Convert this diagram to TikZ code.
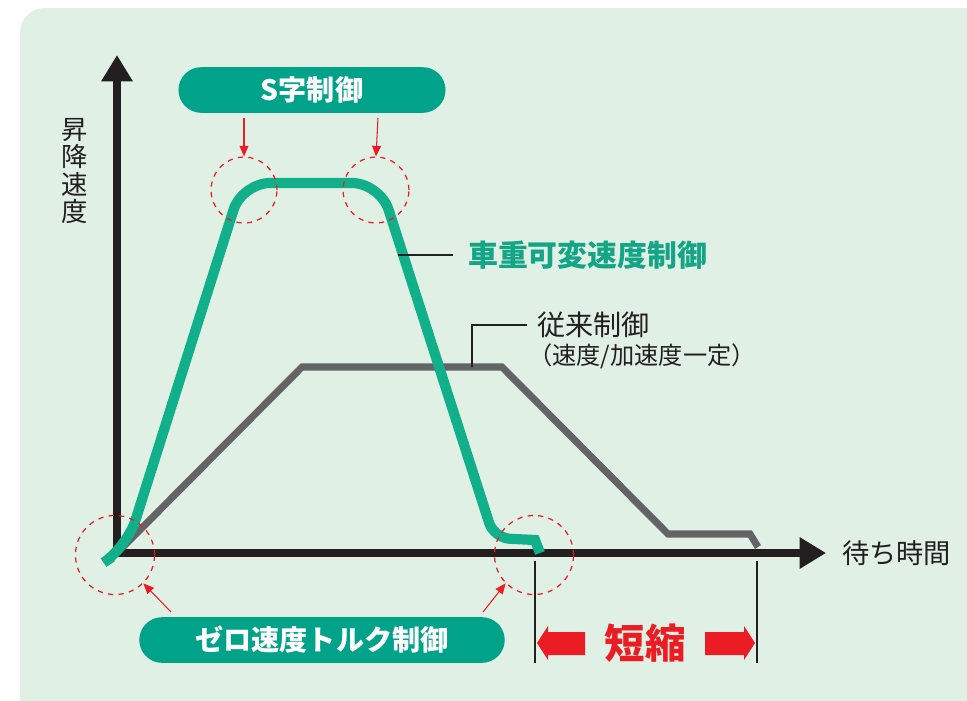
\documentclass[tikz,border=0pt]{standalone}
\usepackage{fontspec}
\setmainfont{Noto Sans CJK JP}
\usetikzlibrary{arrows.meta}
\definecolor{bgmint}{HTML}{E1F0E4}
\definecolor{boxteal}{HTML}{00A389}
\definecolor{curvegreen}{HTML}{12B08A}
\definecolor{textgreen}{HTML}{14A587}
\definecolor{oldgray}{HTML}{646365}
\definecolor{marknred}{HTML}{EC1C24}
\definecolor{axisblack}{HTML}{231F20}

\begin{document}
\begin{tikzpicture}[x=0.02cm,y=-0.02cm,
    axisline/.style={line width=4pt,color=axisblack,-{Triangle[length=15pt,width=17pt]}},
    labelbox/.style={fill=boxteal,rounded corners=13pt,text=white,font=\bfseries\fontsize{16}{16}\selectfont,minimum height=26pt},
    focusring/.style={draw=marknred,dashed,line width=0.7pt,circle},
    pointer/.style={marknred,line width=0.6pt,-{Triangle[length=6pt,width=5pt]}},
    leader/.style={axisblack,line width=0.6pt},
    tick/.style={axisblack,line width=1pt},
    bigarrow/.style={fill=marknred,draw=none}]
  \useasboundingbox (0,0) rectangle (967,700);
  \fill[bgmint,rounded corners=14pt] (20,8) rectangle (1000,730);

  % axes
  \coordinate (o) at (117,553);
  \coordinate (ytop) at (117,55);
  \coordinate (xend) at (826,553);
  \draw[axisline] (117,556) -- (ytop);
  \draw[axisline] (114,553) -- (xend);
  \node[font=\fontsize{15}{15.5}\selectfont,align=center,text=axisblack,inner sep=0pt] (ylab) at (75,171) {昇\\降\\速\\度};
  \node[font=\fontsize{15.5}{16}\selectfont,text=axisblack,anchor=west] (xlab) at (836,553) {待ち時間};

  % conventional control
  \coordinate (g1) at (302,367);
  \coordinate (g2) at (502,367);
  \coordinate (g3) at (668,534);
  \coordinate (g4) at (750,534);
  \coordinate (g5) at (758,547);
  \draw[oldgray,line width=4pt,line join=miter] (o) -- (g1) -- (g2) -- (g3) -- (g4) -- (g5);

  % variable speed control
  \coordinate (c0) at (112,557);
  \coordinate (c1) at (127,547);
  \coordinate (c2) at (242,183);
  \coordinate (c3) at (380,183);
  \coordinate (c4) at (494,538);
  \coordinate (c5) at (535,540);
  \coordinate (c6) at (540,553);
  \draw[curvegreen,line width=5.8pt,rounded corners=16pt] (c0) -- (c1) -- (c2) -- (c3) [rounded corners=9pt] -- (c4) [sharp corners] -- (c5) -- (c6);

  % rings
  \node[focusring,minimum size=37.5pt] (r1) at (244,190) {};
  \node[focusring,minimum size=37.5pt] (r2) at (376,190) {};
  \node[focusring,minimum size=45pt] (r3) at (115,555) {};
  \node[focusring,minimum size=45pt] (r4) at (534,555) {};

  % labels
  \node[labelbox,minimum width=152pt] (scurve) at (312,90) {S字制御};
  \node[labelbox,minimum width=208pt] (zerotq) at (322,640) {ゼロ速度トルク制御};
  \coordinate (s1) at (244,118);
  \coordinate (s2) at (378,118);
  \coordinate (z1) at (171,612);
  \coordinate (z2) at (483,612);
  \draw[pointer] (s1) -- (r1.north);
  \draw[pointer] (s2) -- (r2.north);
  \draw[pointer] (z1) -- (r3.south east);
  \draw[pointer] (z2) -- (r4.south west);

  \node[text=textgreen,font=\bfseries\fontsize{17}{17}\selectfont,anchor=west] (vlab) at (462,255) {車重可変速度制御};
  \coordinate (v1) at (398,255);
  \coordinate (v2) at (453,255);
  \draw[leader] (v1) -- (v2);

  \node[text=axisblack,font=\fontsize{16}{16}\selectfont,anchor=west] (clab) at (531,325) {従来制御};
  \node[text=axisblack,font=\fontsize{13.8}{14}\selectfont,anchor=west] (csub) at (522,356) {（速度/加速度一定）};
  \coordinate (l1) at (472,367);
  \coordinate (l2) at (472,325);
  \coordinate (l3) at (527,325);
  \draw[leader] (l1) -- (l2) -- (l3);

  % shortened time
  \coordinate (t1a) at (535,561);
  \coordinate (t1b) at (535,663);
  \coordinate (t2a) at (757,561);
  \coordinate (t2b) at (757,663);
  \draw[tick] (t1a) -- (t1b);
  \draw[tick] (t2a) -- (t2b);
  \node[text=marknred,font=\bfseries\fontsize{23}{23}\selectfont] (short) at (645,643) {短縮};
  \fill[bigarrow] (537,643) -- (548,626) -- (548,632) -- (585,632) -- (585,655) -- (548,655) -- (548,660) -- cycle;
  \fill[bigarrow] (755,643) -- (744,626) -- (744,632) -- (705,632) -- (705,655) -- (744,655) -- (744,660) -- cycle;
\end{tikzpicture}
\end{document}
